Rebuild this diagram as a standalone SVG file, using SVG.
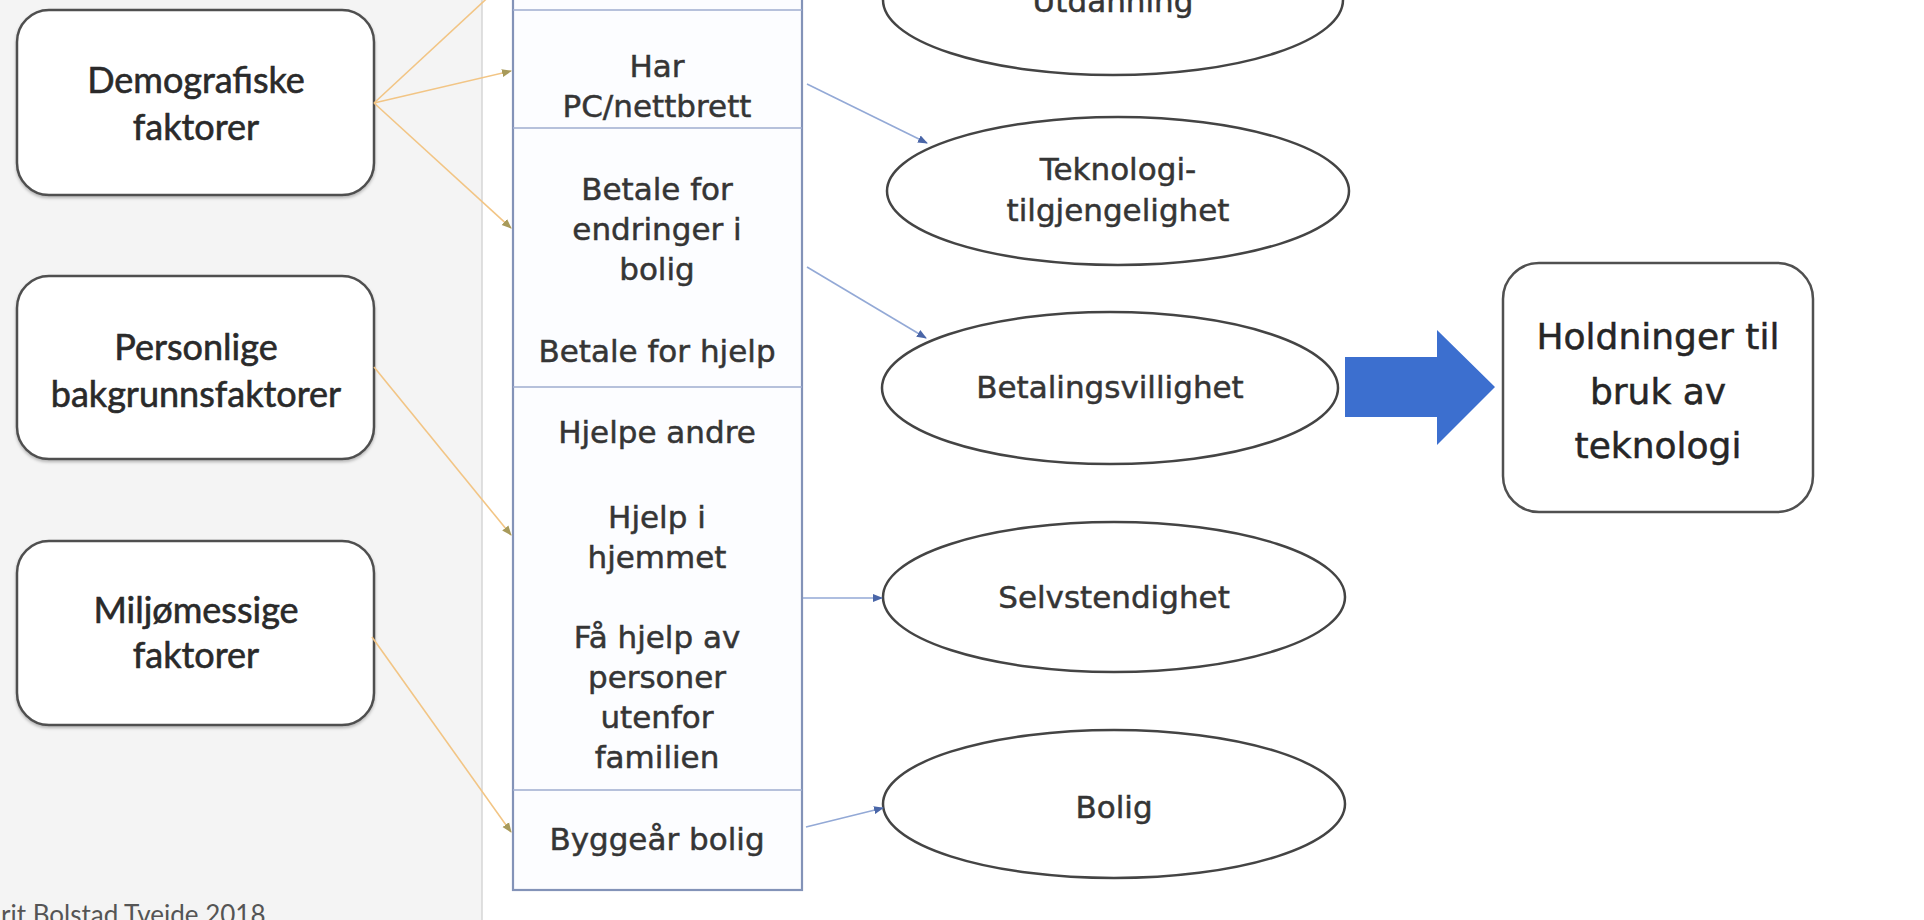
<svg xmlns="http://www.w3.org/2000/svg" width="1924" height="920" viewBox="0 0 1924 920">
<defs>
<style>
.box{fill:#ffffff;stroke:#505050;stroke-width:2.5}
.ell{fill:#ffffff;stroke:#444444;stroke-width:2.5}
.gill{font-family:Lato,"Liberation Sans",sans-serif;font-size:36px;fill:#2a2a2a;stroke:#2a2a2a;stroke-width:0.6;text-anchor:middle}
.cal{font-family:"DejaVu Sans","Liberation Sans",sans-serif;font-size:31px;fill:#353535;stroke:#353535;stroke-width:0.5;text-anchor:middle}
.big{font-family:"DejaVu Sans","Liberation Sans",sans-serif;font-size:36px;fill:#262626;stroke:#262626;stroke-width:0.5;text-anchor:middle}
.org{fill:none;stroke:#f2c585;stroke-width:1.6}
.blu{fill:none;stroke:#93a9d6;stroke-width:1.6}
.div{stroke:#9fadcf;stroke-width:1.5}
</style>
<filter id="sh" x="-5%" y="-5%" width="110%" height="115%">
<feDropShadow dx="0" dy="2" stdDeviation="1.5" flood-color="#000000" flood-opacity="0.25"/>
</filter>
<marker id="ao" viewBox="0 0 10 10" refX="9" refY="5" markerWidth="10" markerHeight="10" markerUnits="userSpaceOnUse" orient="auto">
<path d="M0,1 L10,5 L0,9 Z" fill="#a89a5a"/>
</marker>
<marker id="ab" viewBox="0 0 10 10" refX="9" refY="5" markerWidth="10" markerHeight="10" markerUnits="userSpaceOnUse" orient="auto">
<path d="M0,1 L10,5 L0,9 Z" fill="#4a66a8"/>
</marker>
</defs>
<rect x="0" y="0" width="1924" height="920" fill="#ffffff"/>
<rect x="0" y="0" width="482" height="920" fill="#f4f4f4"/>
<line x1="482" y1="0" x2="482" y2="920" stroke="#d6d6d6" stroke-width="1.5"/>

<g id="demografiske">
<rect class="box" x="17" y="10" width="357" height="185" rx="32" filter="url(#sh)"/>
<text class="gill" x="196" y="93">Demografiske</text>
<text class="gill" x="196" y="140">faktorer</text>
</g>
<g id="personlige">
<rect class="box" x="17" y="276" width="357" height="183" rx="32" filter="url(#sh)"/>
<text class="gill" x="196" y="360">Personlige</text>
<text class="gill" x="196" y="407">bakgrunnsfaktorer</text>
</g>
<g id="miljomessige">
<rect class="box" x="17" y="541" width="357" height="184" rx="32" filter="url(#sh)"/>
<text class="gill" x="196" y="623">Miljømessige</text>
<text class="gill" x="196" y="668">faktorer</text>
</g>

<g id="variabler">
<rect x="513" y="-20" width="289" height="910" fill="#fcfdff" stroke="#8393b8" stroke-width="2.2"/>
<line class="div" x1="513" y1="10" x2="802" y2="10"/>
<line class="div" x1="513" y1="128" x2="802" y2="128"/>
<line class="div" x1="513" y1="387" x2="802" y2="387"/>
<line class="div" x1="513" y1="790" x2="802" y2="790"/>
<text class="cal" x="657" y="77">Har</text>
<text class="cal" x="657" y="117">PC/nettbrett</text>
<text class="cal" x="657" y="200">Betale for</text>
<text class="cal" x="657" y="240">endringer i</text>
<text class="cal" x="657" y="280">bolig</text>
<text class="cal" x="657" y="362">Betale for hjelp</text>
<text class="cal" x="657" y="443">Hjelpe andre</text>
<text class="cal" x="657" y="528">Hjelp i</text>
<text class="cal" x="657" y="568">hjemmet</text>
<text class="cal" x="657" y="648">Få hjelp av</text>
<text class="cal" x="657" y="688">personer</text>
<text class="cal" x="657" y="728">utenfor</text>
<text class="cal" x="657" y="768">familien</text>
<text class="cal" x="657" y="850">Byggeår bolig</text>
</g>

<g id="utdanning">
<ellipse class="ell" cx="1113" cy="0" rx="230" ry="75"/>
<text class="cal" x="1113" y="12">Utdanning</text>
</g>
<g id="teknologi">
<ellipse class="ell" cx="1118" cy="191" rx="231" ry="74"/>
<text class="cal" x="1118" y="180">Teknologi-</text>
<text class="cal" x="1118" y="221">tilgjengelighet</text>
</g>
<g id="betalingsvillighet">
<ellipse class="ell" cx="1110" cy="388" rx="228" ry="76"/>
<text class="cal" x="1110" y="398">Betalingsvillighet</text>
</g>
<g id="selvstendighet">
<ellipse class="ell" cx="1114" cy="597" rx="231" ry="75"/>
<text class="cal" x="1114" y="608">Selvstendighet</text>
</g>
<g id="bolig">
<ellipse class="ell" cx="1114" cy="804" rx="231" ry="74"/>
<text class="cal" x="1114" y="818">Bolig</text>
</g>

<g id="holdninger">
<rect class="box" x="1503" y="263" width="310" height="249" rx="36"/>
<text class="big" x="1658" y="349">Holdninger til</text>
<text class="big" x="1658" y="404">bruk av</text>
<text class="big" x="1658" y="458">teknologi</text>
</g>

<g id="connectors">
<line class="org" x1="374" y1="103" x2="510" y2="-23" marker-end="url(#ao)"/>
<line class="org" x1="374" y1="103" x2="511" y2="71" marker-end="url(#ao)"/>
<line class="org" x1="374" y1="103" x2="511" y2="228" marker-end="url(#ao)"/>
<line class="org" x1="374" y1="367" x2="511" y2="535" marker-end="url(#ao)"/>
<line class="org" x1="372" y1="637" x2="511" y2="832" marker-end="url(#ao)"/>
<line class="blu" x1="807" y1="84" x2="927" y2="143" marker-end="url(#ab)"/>
<line class="blu" x1="807" y1="267" x2="926" y2="338" marker-end="url(#ab)"/>
<line class="blu" x1="803" y1="598" x2="882" y2="598" marker-end="url(#ab)"/>
<line class="blu" x1="806" y1="827" x2="883" y2="808" marker-end="url(#ab)"/>
<path d="M1345,357 L1437,357 L1437,330 L1495,387 L1437,445 L1437,417 L1345,417 Z" fill="#3c6fcf"/>
</g>

<text x="1" y="924" font-family="Lato,'Liberation Sans',sans-serif" font-size="26" fill="#555555">rit Bolstad Tveide 2018</text>
</svg>
